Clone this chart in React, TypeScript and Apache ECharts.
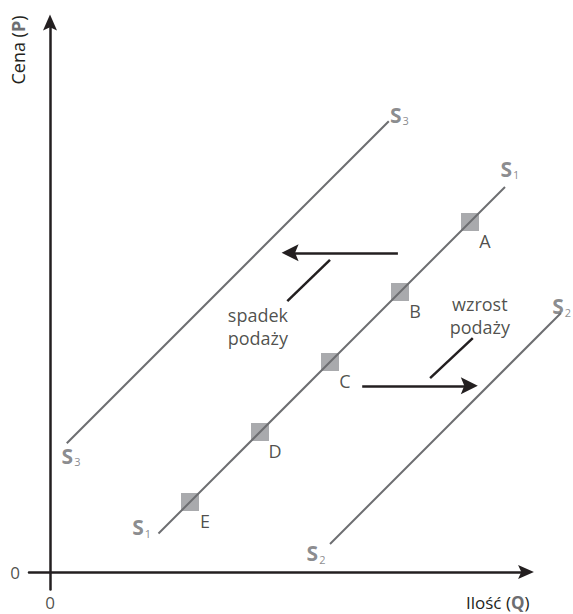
import { useEffect, useRef } from 'react';
import * as echarts from 'echarts';

const FONT = '"Open Sans", "Noto Sans", sans-serif';
const INK = '#231f20';
const CURVE = '#6d6e71';
const MARK = '#939598';

// marked points on S1 (quantity, price)
const pointNames = ['A', 'B', 'C', 'D', 'E'];
const pointQ = [60, 50, 40, 30, 20];
const pointP = [50, 40, 30, 20, 10];

// supply curves, start and end (quantity, price)
const curveS1 = [[15.5, 5.5], [65, 55]];
const curveS2 = [[40, 4], [73, 37]];
const curveS3 = [[2.4, 18.4], [48.4, 64.4]];

// curve name tags at both ends of each curve
const curveTagIds = ['1', '1', '2', '2', '3', '3'];
const curveTagQ = [13.1, 65.7, 38, 73.1, 3.0, 49.9];
const curveTagP = [6.4, 57.6, 2.7, 38.0, 16.6, 65.3];

// shift arrows and their pointer strokes
const decreaseArrow = [[49.7, 45.6], [34.3, 45.6]];
const increaseArrow = [[44.6, 26.6], [59.9, 26.6]];
const decreasePointer = [[40, 44.6], [33.9, 38.7]];
const increasePointer = [[60.4, 33.4], [54.3, 27.7]];

const shiftTexts = ['spadek\npodaży', 'wzrost\npodaży'];
const shiftTextQ = [29.7, 61.4];
const shiftTextP = [35.1, 36.6];

// origin marks
const originTexts = ['0', '0'];
const originQ = [-5, 0];
const originP = [0, -4.3];

const ARROW = 'path://M7.5,0 L15,17 L7.5,13.5 L0,17 Z';

export default function App() {
  const ref = useRef<HTMLDivElement>(null);

  useEffect(() => {
    if (!ref.current) return;
    const chart = echarts.init(ref.current, null, { renderer: 'svg' });

    const axisCommon = {
      type: 'value',
      splitLine: { show: false },
      axisTick: { show: false },
      axisLabel: { show: false },
      axisLine: {
        show: true,
        onZero: true,
        symbol: ['none', ARROW],
        symbolSize: [14, 18],
        lineStyle: { color: INK, width: 2.5 },
      },
    };

    const textLayer = (q: number[], p: number[], names: string[], label: any) => ({
      type: 'scatter',
      symbolSize: 1,
      clip: false,
      silent: true,
      itemStyle: { color: 'rgba(0,0,0,0)' },
      data: q.map((v, i) => ({ value: [v, p[i]], name: names[i] })),
      label: { show: true, position: 'inside', ...label },
    });

    chart.setOption({
      animation: false,
      backgroundColor: '#ffffff',
      grid: { left: 29, top: 22.5, width: 497, height: 567 },
      xAxis: { ...axisCommon, min: -3, max: 68 },
      yAxis: { ...axisCommon, min: -2.5, max: 78.5 },
      graphic: [
        {
          type: 'text',
          x: 18,
          y: 50,
          rotation: Math.PI / 2,
          style: {
            text: '{n|Cena (}{b|P}{n|)}',
            align: 'center',
            verticalAlign: 'middle',
            rich: {
              n: { fontFamily: FONT, fontSize: 18, fill: INK },
              b: { fontFamily: FONT, fontSize: 18, fontWeight: 'bold', fill: CURVE },
            },
          },
        },
        {
          type: 'text',
          x: 466,
          y: 602,
          style: {
            text: '{n|Ilość (}{b|Q}{n|)}',
            align: 'left',
            verticalAlign: 'middle',
            rich: {
              n: { fontFamily: FONT, fontSize: 17, lineHeight: 18, fill: INK },
              b: { fontFamily: FONT, fontSize: 17, lineHeight: 18, fontWeight: 'bold', fill: CURVE },
            },
          },
        },
      ],
      series: [
        {
          type: 'lines',
          coordinateSystem: 'cartesian2d',
          clip: false,
          silent: true,
          z: 3,
          symbol: 'none',
          lineStyle: { color: CURVE, width: 2, opacity: 1 },
          data: [{ coords: curveS1 }, { coords: curveS2 }, { coords: curveS3 }],
        },
        {
          type: 'scatter',
          symbol: 'rect',
          symbolSize: 18,
          z: 2,
          silent: true,
          itemStyle: { color: MARK },
          data: pointQ.map((q, i) => ({ value: [q, pointP[i]], name: pointNames[i] })),
          label: {
            show: true,
            position: 'inside',
            offset: [15, 19],
            formatter: '{b}',
            fontFamily: FONT,
            fontSize: 18,
            color: INK,
          },
        },
        textLayer(curveTagQ, curveTagP, curveTagIds, {
          formatter: (p: any) => `{s|S}{i|${p.name}}`,
          rich: {
            s: { fontFamily: FONT, fontSize: 21, fontWeight: 'bold', color: CURVE },
            i: { fontFamily: FONT, fontSize: 11, color: CURVE, padding: [12, 0, 0, 1] },
          },
        }),
        textLayer(shiftTextQ, shiftTextP, shiftTexts, {
          formatter: '{b}',
          fontFamily: FONT,
          fontSize: 18,
          lineHeight: 23,
          color: INK,
        }),
        textLayer(originQ, originP, originTexts, {
          formatter: '{b}',
          fontFamily: FONT,
          fontSize: 17,
          color: INK,
        }),
        {
          type: 'lines',
          coordinateSystem: 'cartesian2d',
          clip: false,
          silent: true,
          z: 4,
          symbol: ['none', ARROW],
          symbolSize: 17,
          symbolKeepAspect: true,
          lineStyle: { color: INK, width: 2.5, opacity: 1 },
          data: [{ coords: decreaseArrow }, { coords: increaseArrow }],
        },
        {
          type: 'lines',
          coordinateSystem: 'cartesian2d',
          clip: false,
          silent: true,
          z: 4,
          symbol: 'none',
          lineStyle: { color: INK, width: 2.5, opacity: 1 },
          data: [{ coords: decreasePointer }, { coords: increasePointer }],
        },
      ],
    });

    return () => chart.dispose();
  }, []);

  return (
    <div
      ref={ref}
      style={{ position: 'fixed', left: 0, top: 0, width: 573, height: 614 }}
    />
  );
}
